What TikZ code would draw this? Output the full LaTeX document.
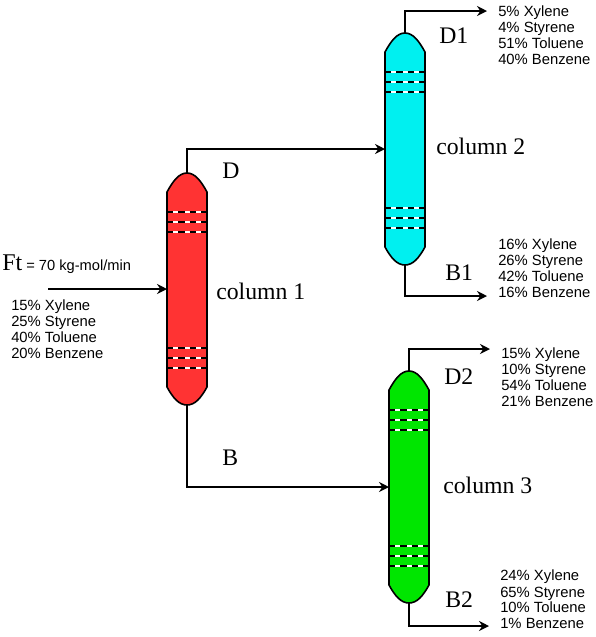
\documentclass[tikz,border=0pt]{standalone}
\usepackage{fontspec}
\setmainfont{Liberation Serif}
\newfontfamily\arialfont{Liberation Sans}
\usepackage{tikz}
\usetikzlibrary{arrows.meta,calc}
\definecolor{colred}{RGB}{255,51,51}
\definecolor{colcyan}{RGB}{0,240,240}
\definecolor{colgreen}{RGB}{0,230,0}
\tikzset{
  stream/.style={->,line width=1.1pt},
  tray/.style={line width=0.8pt,dash pattern=on 4.7pt off 3.75pt},
  traygap/.style={white,line width=0.9pt},
  complist/.style={font=\arialfont\fontsize{11.1}{12}\selectfont,align=left,anchor=north west,inner sep=0pt},
  tag/.style={font=\fontsize{17.8}{20}\selectfont,anchor=west,inner sep=0pt},
  distcol/.pic={
    \draw[fill=#1,line width=1.2pt] (-20,19) .. controls (-14,8) and (-8,0) .. (0,0)
      .. controls (8,0) and (14,8) .. (20,19) -- (20,214)
      .. controls (14,225) and (8,232) .. (0,232)
      .. controls (-8,232) and (-14,225) .. (-20,214) -- cycle;
    \foreach \yy in {39,49,59,175,185,195} {
      \draw[traygap] (-19,\yy) -- (19,\yy);
      \draw[tray] (-20,\yy) -- (20,\yy);
    }
    \coordinate (-top) at (0,0);
    \coordinate (-bot) at (0,232);
    \coordinate (-in) at (-20,116);
  }
}

\begin{document}
\begin{tikzpicture}[x=0.75pt,y=-0.75pt,>={Stealth[length=7.5pt,width=7.5pt]}]
  \useasboundingbox (0,0) rectangle (596,637);
  \pic (col1) at (187,173) {distcol=colred};
  \pic (col2) at (405,33) {distcol=colcyan};
  \pic (col3) at (409,371) {distcol=colgreen};
  % outlets
  \coordinate (feed) at (48,289);
  \coordinate (outD1) at (487,11);
  \coordinate (outB1) at (487,296);
  \coordinate (outD2) at (490,349);
  \coordinate (outB2) at (489,626);
  \draw[stream] (feed) -- (col1-in);
  \draw[stream] (col1-top) |- (col2-in);
  \draw[stream] (col1-bot) |- (col3-in);
  \draw[stream] (col2-top) |- (outD1);
  \draw[stream] (col2-bot) |- (outB1);
  \draw[stream] (col3-top) |- (outD2);
  \draw[stream] (col3-bot) |- (outB2);
  % labels
  \node[tag] (lblD) at (222,171) {D};
  \node[tag] (lblB) at (222,458) {B};
  \node[tag] (lblD1) at (439,36) {D1};
  \node[tag] (lblB1) at (445,273) {B1};
  \node[tag] (lblD2) at (444,377) {D2};
  \node[tag] (lblB2) at (445,600) {B2};
  \node[tag] (lblc1) at (216,291) {column 1};
  \node[tag] (lblc2) at (436,146) {column 2};
  \node[tag] (lblc3) at (443,485) {column 3};
  \node[anchor=west,inner sep=0pt] (lblF) at (2,264)
    {\fontsize{18}{20}\selectfont Ft\,\arialfont\fontsize{11}{12}\selectfont = 70 kg-mol/min};
  % compositions
  \node[complist] (xF) at (11,300) {15\% Xylene\\25\% Styrene\\40\% Toluene\\20\% Benzene};
  \node[complist] (xD1) at (498,6) {5\% Xylene\\4\% Styrene\\51\% Toluene\\40\% Benzene};
  \node[complist] (xB1) at (498,239) {16\% Xylene\\26\% Styrene\\42\% Toluene\\16\% Benzene};
  \node[complist] (xD2) at (501,348) {15\% Xylene\\10\% Styrene\\54\% Toluene\\21\% Benzene};
  \node[complist] (xB2) at (500,570) {24\% Xylene\\65\% Styrene\\10\% Toluene\\1\% Benzene};
\end{tikzpicture}
\end{document}
